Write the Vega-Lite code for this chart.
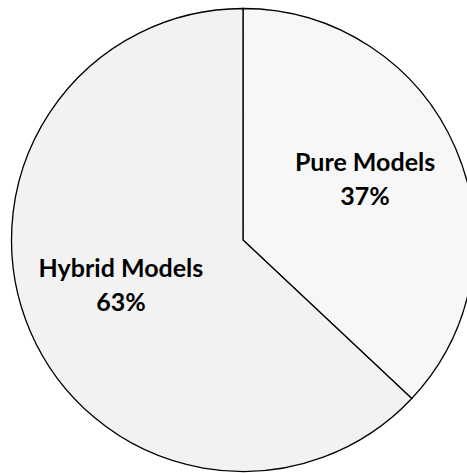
{
  "$schema": "https://vega.github.io/schema/vega-lite/v6.json",
  "autosize": "none",
  "padding": 0,
  "width": 486,
  "height": 480,
  "background": "white",
  "view": {"stroke": null},
  "data": {"values": [
    {"category": "Pure Models", "value": 37, "label": "Pure Models\n37%"},
    {"category": "Hybrid Models", "value": 63, "label": "Hybrid Models\n63%"}
  ]},
  "encoding": {
    "theta": {"field": "value", "type": "quantitative", "stack": true},
    "order": {"field": "value", "type": "quantitative", "sort": "ascending"}
  },
  "layer": [
    {
      "mark": {"type": "arc", "outerRadius": 231.5, "stroke": "black", "strokeWidth": 1.3},
      "encoding": {
        "color": {"field": "category", "type": "nominal", "scale": {"domain": ["Pure Models", "Hybrid Models"], "range": ["#f7f7f7", "#f2f2f2"]}, "legend": null}
      }
    },
    {
      "mark": {"type": "text", "radius": 133, "dy": -24, "font": "Lato", "fontWeight": "bold", "fontSize": 25, "lineBreak": "\n", "lineHeight": 34, "baseline": "middle", "align": "center", "color": "black"},
      "encoding": {
        "text": {"field": "label", "type": "nominal"}
      }
    }
  ]
}
